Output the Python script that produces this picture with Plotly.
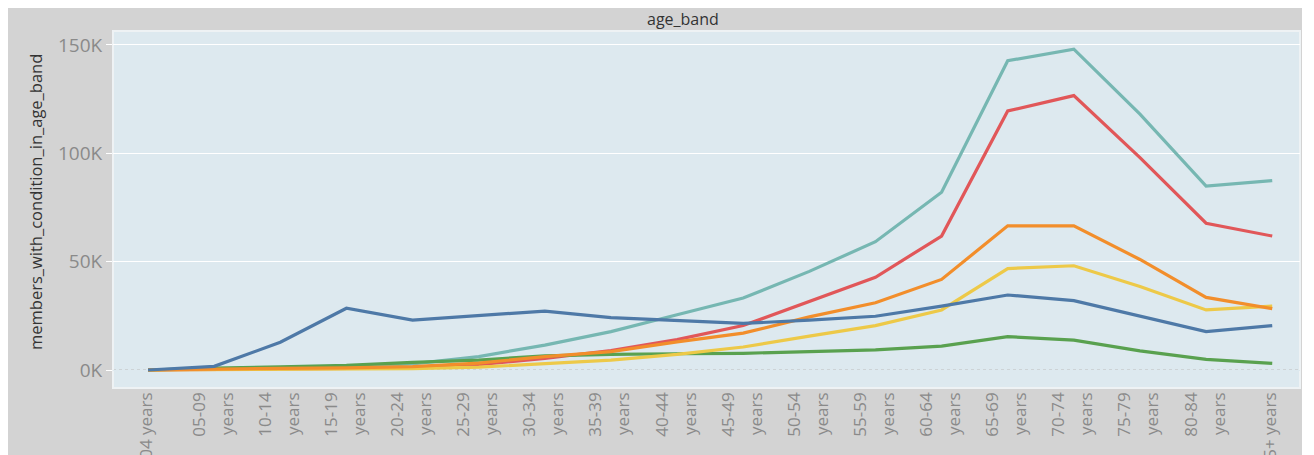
import plotly.graph_objects as go

age_bands = ["00-04 years", "05-09 years", "10-14 years", "15-19 years", "20-24 years",
             "25-29 years", "30-34 years", "35-39 years", "40-44 years", "45-49 years",
             "50-54 years", "55-59 years", "60-64 years", "65-69 years", "70-74 years",
             "75-79 years", "80-84 years", "85+ years"]

# members_with_condition_in_age_band, per condition (thousands)
cond_teal = [0, 0.5, 1.0, 1.6, 2.8, 6.2, 11.5, 17.7, 25.5, 33.2, 45.5, 59.2, 82.0, 142.7, 148.0, 118.0, 84.9, 87.4]
cond_red = [0, 0.3, 0.5, 0.8, 1.0, 2.5, 5.4, 9.0, 14.0, 20.5, 31.5, 42.8, 61.8, 119.5, 126.6, 98.0, 67.7, 61.8]
cond_green = [0, 0.9, 1.4, 2.1, 3.5, 4.6, 6.5, 7.2, 7.5, 7.7, 8.5, 9.3, 11.0, 15.4, 13.8, 8.8, 4.9, 3.1]
cond_yellow = [0, 0.2, 0.3, 0.4, 0.6, 1.3, 3.1, 4.6, 7.2, 10.6, 15.6, 20.5, 27.7, 46.8, 48.1, 38.5, 27.7, 29.5]
cond_orange = [0, 0.5, 0.8, 1.0, 1.6, 3.2, 6.2, 8.5, 13.0, 17.0, 24.5, 31.0, 41.8, 66.5, 66.5, 51.0, 33.5, 28.3]
cond_blue = [0, 1.7, 12.8, 28.5, 23.0, 25.2, 27.2, 24.2, 23.0, 21.5, 23.0, 24.8, 29.5, 34.6, 32.0, 24.8, 17.7, 20.5]

series_names = ["condition_1", "condition_2", "condition_3", "condition_4", "condition_5", "condition_6"]
series_values = [cond_teal, cond_red, cond_green, cond_yellow, cond_orange, cond_blue]
series_colors = ["#76b7b2", "#e15759", "#59a14f", "#edc948", "#f28e2b", "#4e79a7"]

y_tickvals = [0, 50000, 100000, 150000]
y_ticktext = ["0K", "50K", "100K", "150K"]

# category positions on the x axis
x_idx = list(range(len(age_bands)))
mid_idx = x_idx[1:-1]
mid_first = [age_bands[i].split(" ")[0] for i in mid_idx]
mid_second = [age_bands[i].split(" ")[1] for i in mid_idx]
end_idx = [x_idx[0], x_idx[-1]]
end_text = [age_bands[0], age_bands[-1]]

# page offset (browser body margin) -> figure drawn from page pixel (8, 8)
OFF = 8
W, H = 1314 - OFF, 455 - OFF
ML, MT, MB = 113 - OFF, 31 - OFF, 455 - 388
MR = W - (1300 - OFF)
PW, PH = W - ML - MR, H - MT - MB

def px_x(p):  # page pixel -> paper x
    return (p - OFF - ML) / PW

def px_y(p):  # page pixel -> paper y
    return (H - MB - (p - OFF)) / PH

fig = go.Figure()
for name, vals, col in zip(series_names, series_values, series_colors):
    fig.add_trace(go.Scatter(
        x=x_idx, y=[v * 1000 for v in vals], name=name, mode="lines",
        customdata=age_bands,
        line=dict(color=col, width=3.2),
        hovertemplate="%{customdata}: %{y:,.0f}<extra>" + name + "</extra>"))

# empty helper traces so the overlaid label axes get drawn
for ax in ("x2", "x3"):
    fig.add_trace(go.Scatter(x=end_idx, y=[None, None], xaxis=ax, yaxis="y", mode="lines",
                             showlegend=False, hoverinfo="skip"))

FONT = "Open Sans, Lato, sans-serif"
grey_txt = "#8a8a8a"
XFS = 17

xcommon = dict(range=[-0.53, 17.42], tickmode="array", tickangle=-90, showgrid=False,
               zeroline=False, showline=False, ticks="", automargin=False,
               tickfont=dict(size=XFS, color=grey_txt, family=FONT))

fig.update_layout(
    width=W, height=H,
    margin=dict(l=ML, r=MR, t=MT, b=MB, pad=0),
    paper_bgcolor="#d3d3d3",
    plot_bgcolor="#dde9ef",
    showlegend=False,
    font=dict(family=FONT, color=grey_txt, size=16),
    xaxis=dict(tickvals=mid_idx, ticktext=mid_first, ticklabelshift=-15, **xcommon),
    xaxis2=dict(tickvals=mid_idx, ticktext=mid_second, ticklabelshift=13,
                overlaying="x", anchor="y", side="bottom", **xcommon),
    xaxis3=dict(tickvals=end_idx, ticktext=end_text, ticklabelshift=-2,
                overlaying="x", anchor="y", side="bottom", **xcommon),
    yaxis=dict(
        range=[-8300, 156400], tickmode="array", tickvals=y_tickvals, ticktext=y_ticktext,
        showgrid=True, gridcolor="#ffffff", gridwidth=1,
        zeroline=True, zerolinecolor="#dde9ef", zerolinewidth=1,
        ticks="outside", ticklen=6, tickcolor="#ffffff", showline=False,
        automargin=False, tickfont=dict(size=19, color=grey_txt, family=FONT),
    ),
)

shapes = [
    dict(type="line", xref="paper", yref="y", x0=0, x1=1, y0=0, y1=0,
         line=dict(color="#bdbdbd", width=1, dash="dot"), layer="between"),
    dict(type="rect", xref="paper", yref="paper", x0=0, x1=1, y0=0, y1=1,
         line=dict(color="#eef2f4", width=2), layer="below"),
    dict(type="rect", xref="paper", yref="paper", x0=px_x(1302), x1=px_x(1320), y0=px_y(460), y1=px_y(0),
         line=dict(width=0), fillcolor="#ffffff", layer="above"),
]
fig.update_layout(shapes=shapes)

fig.add_annotation(text="age_band", xref="paper", yref="paper", x=px_x(683), y=px_y(19),
                   showarrow=False, xanchor="center", yanchor="middle",
                   font=dict(size=16, color="#333333", family=FONT))
fig.add_annotation(text="members_with_condition_in_age_band", xref="paper", yref="paper",
                   x=px_x(35), y=px_y(202), showarrow=False, textangle=-90,
                   xanchor="center", yanchor="middle",
                   font=dict(size=16.5, color="#333333", family=FONT))

fig.write_html("out.html")
